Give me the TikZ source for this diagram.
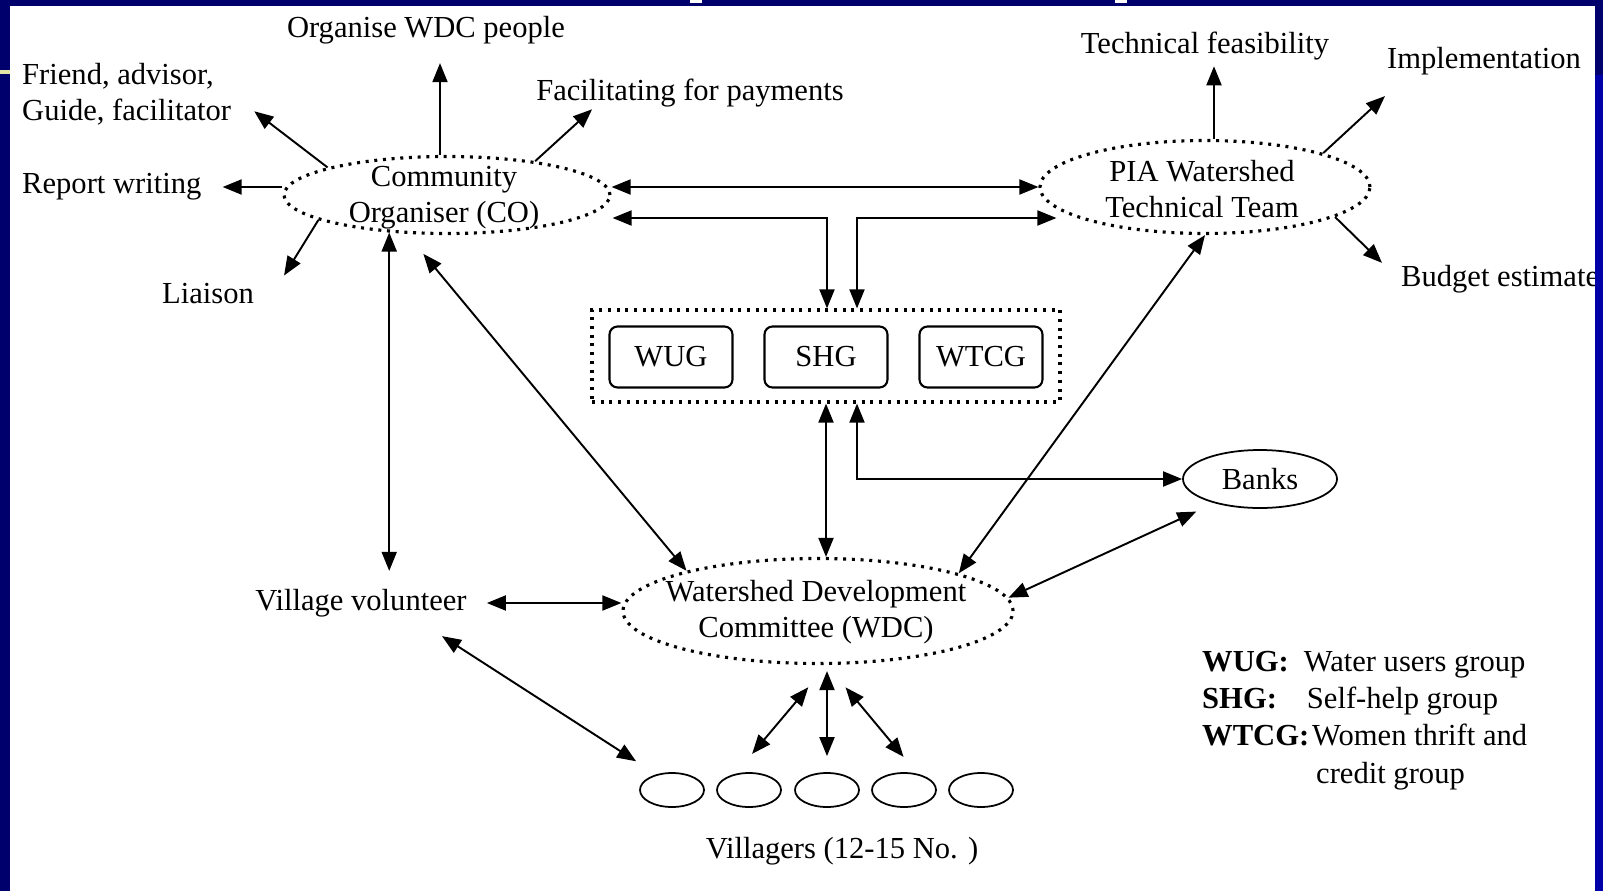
\documentclass[tikz,border=0pt]{standalone}
\usepackage{fontspec}
\setmainfont{Liberation Serif}
\usetikzlibrary{arrows.meta,calc,shapes.geometric}
\definecolor{navy}{RGB}{0,0,108}
\definecolor{sideblue}{RGB}{0,0,168}
\definecolor{paleyel}{RGB}{228,228,168}

\begin{document}
\begin{tikzpicture}[
		x=0.1mm, y=-0.1mm,
		>={Triangle[length=1.9mm,width=1.5mm]},
		font=\fontsize{8.7}{10.3}\selectfont,
		conn/.style={line width=0.55pt},
		dotbox/.style={draw, line width=0.9pt, dash pattern=on 0.3mm off 0.57mm, inner sep=0pt},
		dotell/.style={dotbox, ellipse},
		plainell/.style={ellipse, draw, line width=0.5pt, inner sep=0pt},
		grp/.style={draw, rounded corners=0.8mm, line width=0.6pt, minimum width=12.3mm, minimum height=6.1mm},
		txt/.style={inner sep=1pt, yshift=-0.3mm}
		]
		
		% --------------------------------------------------
		% Frame
		% --------------------------------------------------
		\useasboundingbox (0,0) rectangle (1603,891);
		\fill[white] (0,0) rectangle (1603,891);
		\fill[navy] (0,0) rectangle (1603,6);
		\fill[navy] (0,0) rectangle (10,891);
		\fill[paleyel] (0,70) rectangle (10,74);
		\fill[white] (690,0) rectangle (702,3);
		\fill[white] (1115,0) rectangle (1127,3);
		
		% --------------------------------------------------
		% Community organiser and its tasks
		% --------------------------------------------------
		\node[dotell, minimum width=32.6mm, minimum height=7.7mm] (CO) at (447,195) {};
		\node[txt, align=center] (COtxt) at (444,195) {Community\\Organiser (CO)};
		
		\node[txt] (orgwdc) at (426,27) {Organise WDC people};
		\node[txt, anchor=west, align=left] (friend) at (18,91) {Friend, advisor,\\Guide, facilitator};
		\node[txt] (facil) at (690,90) {Facilitating for payments};
		\node[txt, anchor=west] (report) at (18,184) {Report writing};
		\node[txt] (liaison) at (208,291) {Liaison};
		
		\draw[conn,->] ($(CO.north)+(-7,0)$) -- ($(orgwdc.south)+(14,15)$);
		\draw[conn,->] (CO.167) -- ($(friend.south east)+(19,-18)$);
		\draw[conn,->] (CO.21) -- ($(facil.south west)+(60,-2)$);
		\draw[conn,->] (CO.west |- report.east) -- ($(report.east)+(17,0)$);
		\draw[conn,->] (CO.191) -- ($(liaison.north east)+(26,-4)$);
		
		% --------------------------------------------------
		% PIA technical team and its tasks
		% --------------------------------------------------
		\node[dotell, minimum width=33mm, minimum height=9.3mm] (PIA) at (1205,187) {};
		\node[txt, align=center] (PIAtxt) at (1202,186) {PIA Watershed\\Technical Team};
		
		\node[txt] (techfeas) at (1205,43) {Technical feasibility};
		\node[txt] (impl) at (1484,58) {Implementation};
		\node[txt, anchor=west] (budget) at (1397,276) {Budget estimate};
		
		\draw[conn,->] ($(PIA.north)+(9,0)$) -- ($(techfeas.south)+(9,2)$);
		\draw[conn,->] (PIA.16) -- ($(impl.south west)+(2,17)$);
		\draw[conn,->] (PIA.-13) -- ($(budget.north west)+(-15,2)$);
		
		% --------------------------------------------------
		% Groups
		% --------------------------------------------------
		\node[dotbox, minimum width=46.8mm, minimum height=9.2mm] (grpbox) at (826,356) {};
		\foreach \n/\x in {WUG/671,SHG/826,WTCG/981}
		\node[grp] (\n) at (\x,357) {\n};
		
		\draw[conn,<->] (CO.east |- PIA.west) -- (PIA.west);
		\draw[conn,<->] ($(CO.east)+(1,23)$) -| ($(grpbox.north)+(1,0)$);
		\draw[conn,<->] ($(PIA.west)+(18,31)$) -| ($(grpbox.north)+(31,0)$);
		
		% --------------------------------------------------
		% Watershed development committee
		% --------------------------------------------------
		\node[dotell, minimum width=39mm, minimum height=10.5mm] (WDC) at (818,611) {};
		\node[txt, align=center] (WDCtxt) at (816,609) {Watershed Development\\Committee (WDC)};
		
		\node[plainell, minimum width=15.4mm, minimum height=5.8mm] (banks) at (1260,479) {Banks};
		\node[txt] (volunteer) at (361,600) {Village volunteer};
		
		\draw[conn,<->] (CO.213) -- ($(CO.213 |- volunteer.north)+(0,-14)$);
		\draw[conn,<->, shorten <=2.6mm] (CO.224) -- (WDC.163);
		\draw[conn,<->] (PIA.south) -- (WDC.15);
		\draw[conn,<->] (grpbox.south) -- (grpbox.south |- WDC.north);
		\draw[conn,<->] ($(grpbox.south)+(31,0)$) |- (banks.west);
		\draw[conn,<->, shorten >=2mm] (WDC.4) -- (banks.208);
		\draw[conn,<->, shorten <=1.6mm] (volunteer.east) -- (volunteer.east -| WDC.west);
		
		% --------------------------------------------------
		% Villagers
		% --------------------------------------------------
		\foreach \i/\x in {1/672,2/749,3/827,4/904,5/981}
		\node[plainell, minimum width=6.4mm, minimum height=3.4mm] (v\i) at (\x,790) {};
		\node[txt] (vlabel) at (842,848) {Villagers (12-15 No. )};
		
		\draw[conn,<->, shorten >=2.4mm] ($(volunteer.south)+(81,15)$) -- (v1.135);
		\draw[conn,<->, shorten <=0.6mm, shorten >=1.6mm] (WDC.south -| v3.north) -- (v3.north);
		\draw[conn,<->, shorten <=2.9mm, shorten >=2.6mm] (WDC.south -| v3.north) -- (v2.130);
		\draw[conn,<->, shorten <=2.9mm, shorten >=2.2mm] (WDC.south -| v3.north) -- (v4.50);
		
		% --------------------------------------------------
		% Legend
		% --------------------------------------------------
		\node[txt, anchor=north west, align=left, font=\fontsize{8.7}{10.6}\selectfont] (legend) at (1198,644) {%
			\textbf{WUG:}\hspace{1.5mm}Water users group\\
			\textbf{SHG:}\hspace{3mm}Self-help group\\
			\textbf{WTCG:}\hspace{0.3mm}Women thrift and\\
			\hspace{11.4mm}credit group
		};
		
		% right edge
		\fill[navy] (1595,0) rectangle (1603,75);
		\fill[sideblue] (1595,75) rectangle (1603,891);
		
	\end{tikzpicture}
\end{document}
